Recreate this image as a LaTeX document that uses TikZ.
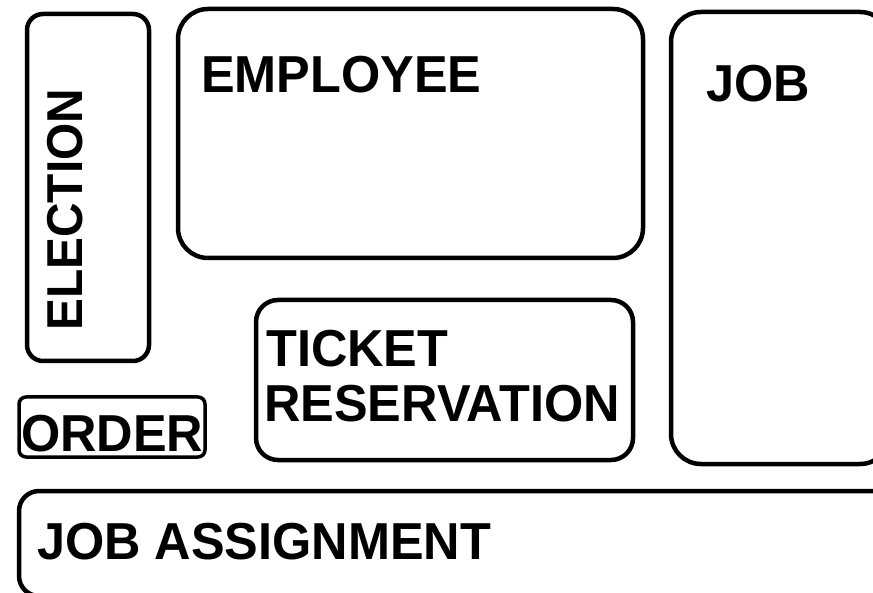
\documentclass[tikz,border=0pt]{standalone}
\usepackage{fontspec}
\setmainfont{Liberation Sans}
\begin{document}
\begin{tikzpicture}[x=1pt,y=-1pt,
  boxstyle/.style={draw=black,line width=4.5pt},
  lbl/.style={font=\bfseries\fontsize{52}{60}\selectfont,inner sep=0pt,anchor=base west,xscale=0.97}]
\useasboundingbox (0,0) rectangle (873,593);
\clip (0,0) rectangle (873,593);
\draw[boxstyle,rounded corners=16pt] (27,14) rectangle (149,361);
\draw[boxstyle,rounded corners=30pt] (178,9) rectangle (643,258);
\draw[boxstyle,rounded corners=30pt] (671,12) rectangle (890,464);
\draw[boxstyle,rounded corners=22pt] (256,300) rectangle (633,460);
\draw[boxstyle,line width=3.5pt,rounded corners=7pt] (19,397) rectangle (205,457);
\draw[boxstyle,rounded corners=20pt] (19,491) rectangle (900,596);
\node[lbl,rotate=90,xscale=0.92] (election) at (82,331) {ELECTION};
\node[lbl] (employee) at (201,93) {EMPLOYEE};
\node[lbl] (job) at (706,102) {JOB};
\node[lbl] (ticket) at (266,367) {TICKET};
\node[lbl] (reservation) at (264,421) {RESERVATION};
\node[lbl] (order) at (21,452) {ORDER};
\node[lbl] (jobassignment) at (37,559) {JOB ASSIGNMENT};
\end{tikzpicture}
\end{document}
